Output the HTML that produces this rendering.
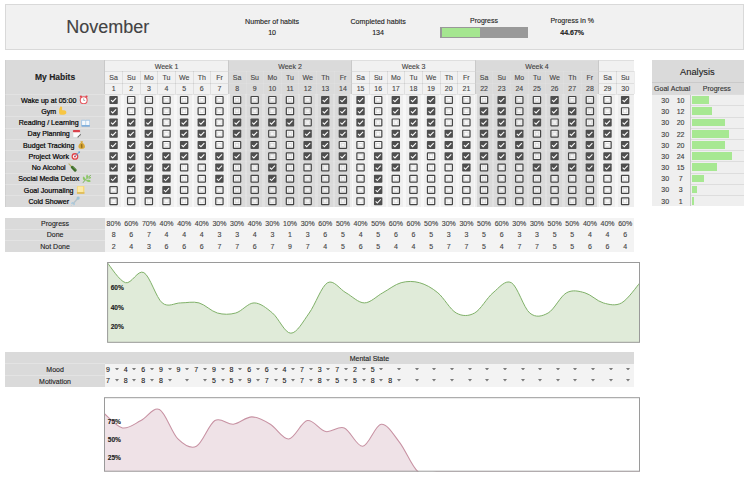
<!DOCTYPE html>
<html><head><meta charset="utf-8"><title>Habit Tracker</title>
<style>
html,body{margin:0;padding:0;background:#fff;overflow:hidden}
body{width:748px;height:477px;position:relative;overflow:hidden;font-family:"Liberation Sans", sans-serif}
.t{position:absolute;width:200px;height:20px;line-height:20px;text-align:center;white-space:nowrap;font-family:"Liberation Sans", sans-serif;-webkit-text-stroke:.12px currentColor}
.hl{position:absolute;left:5.3px;width:99.50px;height:20px;line-height:20px;text-align:center;white-space:nowrap;font-size:7.1px;color:#000;font-family:"Liberation Sans", sans-serif;padding-right:1px;box-sizing:border-box;-webkit-text-stroke:.2px #000}
.hl .ic{display:inline-block;vertical-align:-1.9px;margin-left:.3px}
.cb{position:absolute}
svg{display:block}
#w{position:absolute;left:0;top:0;width:748px;height:477px;opacity:.999;overflow:hidden}
</style></head><body><div id="w">
<div style="position:absolute;left:5.00px;top:4.00px;width:737.00px;height:43.70px;background:rgba(241,241,241,.985);border:1px solid #d9d9d9;box-sizing:content-box;"></div>
<div class="t" style="left:7.80px;top:16.80px;font-size:18px;color:#434343;font-weight:normal;">November</div>
<div class="t" style="left:172.10px;top:11.50px;font-size:7.1px;color:#222;font-weight:normal;">Number of habits</div>
<div class="t" style="left:172.10px;top:23.30px;font-size:7.1px;color:#222;font-weight:normal;">10</div>
<div class="t" style="left:278.10px;top:11.50px;font-size:7.1px;color:#222;font-weight:normal;">Completed habits</div>
<div class="t" style="left:278.10px;top:23.30px;font-size:7.1px;color:#222;font-weight:normal;">134</div>
<div class="t" style="left:384.00px;top:11.30px;font-size:7px;color:#222;font-weight:normal;">Progress</div>
<div style="position:absolute;left:440.20px;top:27.20px;width:87.80px;height:11.00px;background:#999;"></div>
<div style="position:absolute;left:441.60px;top:28.40px;width:38.40px;height:8.60px;background:rgba(166,232,144,.985);"></div>
<div class="t" style="left:472.20px;top:11.30px;font-size:7px;color:#222;font-weight:normal;">Progress in %</div>
<div class="t" style="left:472.20px;top:23.00px;font-size:7px;color:#222;font-weight:bold;">44.67%</div>
<div style="position:absolute;left:5.30px;top:60.40px;width:99.50px;height:146.30px;background:rgba(217,217,217,.985);"></div>
<div class="t" style="left:-44.95px;top:67.00px;font-size:8.5px;color:#222;font-weight:bold;">My Habits</div>
<div style="position:absolute;left:5.30px;top:60.40px;width:1.10px;height:146.30px;background:rgba(0,0,0,.045);"></div>
<div style="position:absolute;left:104.80px;top:60.40px;width:123.48px;height:146.30px;background:rgba(241,241,241,.985);"></div>
<div style="position:absolute;left:104.80px;top:94.10px;width:123.48px;height:112.60px;background:rgba(239,239,239,.985);"></div>
<div style="position:absolute;left:228.28px;top:60.40px;width:123.48px;height:146.30px;background:rgba(217,217,217,.985);"></div>
<div style="position:absolute;left:351.76px;top:60.40px;width:123.48px;height:146.30px;background:rgba(241,241,241,.985);"></div>
<div style="position:absolute;left:351.76px;top:94.10px;width:123.48px;height:112.60px;background:rgba(239,239,239,.985);"></div>
<div style="position:absolute;left:475.24px;top:60.40px;width:123.48px;height:146.30px;background:rgba(217,217,217,.985);"></div>
<div style="position:absolute;left:598.72px;top:60.40px;width:35.28px;height:146.30px;background:rgba(241,241,241,.985);"></div>
<div style="position:absolute;left:598.72px;top:94.10px;width:35.28px;height:112.60px;background:rgba(239,239,239,.985);"></div>
<div style="position:absolute;left:104.40px;top:60.40px;width:0.80px;height:33.70px;background:rgba(0,0,0,.075);"></div>
<div style="position:absolute;left:122.04px;top:71.40px;width:0.80px;height:22.70px;background:rgba(0,0,0,.075);"></div>
<div style="position:absolute;left:121.14px;top:94.10px;width:2.60px;height:112.60px;background:rgba(255,255,255,.5);"></div>
<div style="position:absolute;left:139.68px;top:71.40px;width:0.80px;height:22.70px;background:rgba(0,0,0,.075);"></div>
<div style="position:absolute;left:138.78px;top:94.10px;width:2.60px;height:112.60px;background:rgba(255,255,255,.5);"></div>
<div style="position:absolute;left:157.32px;top:71.40px;width:0.80px;height:22.70px;background:rgba(0,0,0,.075);"></div>
<div style="position:absolute;left:156.42px;top:94.10px;width:2.60px;height:112.60px;background:rgba(255,255,255,.5);"></div>
<div style="position:absolute;left:174.96px;top:71.40px;width:0.80px;height:22.70px;background:rgba(0,0,0,.075);"></div>
<div style="position:absolute;left:174.06px;top:94.10px;width:2.60px;height:112.60px;background:rgba(255,255,255,.5);"></div>
<div style="position:absolute;left:192.60px;top:71.40px;width:0.80px;height:22.70px;background:rgba(0,0,0,.075);"></div>
<div style="position:absolute;left:191.70px;top:94.10px;width:2.60px;height:112.60px;background:rgba(255,255,255,.5);"></div>
<div style="position:absolute;left:210.24px;top:71.40px;width:0.80px;height:22.70px;background:rgba(0,0,0,.075);"></div>
<div style="position:absolute;left:209.34px;top:94.10px;width:2.60px;height:112.60px;background:rgba(255,255,255,.5);"></div>
<div style="position:absolute;left:227.88px;top:60.40px;width:0.80px;height:33.70px;background:rgba(0,0,0,.075);"></div>
<div style="position:absolute;left:226.98px;top:94.10px;width:2.60px;height:112.60px;background:rgba(255,255,255,.5);"></div>
<div style="position:absolute;left:245.52px;top:71.40px;width:0.80px;height:22.70px;background:rgba(255,255,255,.09);"></div>
<div style="position:absolute;left:244.62px;top:94.10px;width:2.60px;height:112.60px;background:rgba(255,255,255,.2);"></div>
<div style="position:absolute;left:263.16px;top:71.40px;width:0.80px;height:22.70px;background:rgba(255,255,255,.09);"></div>
<div style="position:absolute;left:262.26px;top:94.10px;width:2.60px;height:112.60px;background:rgba(255,255,255,.2);"></div>
<div style="position:absolute;left:280.80px;top:71.40px;width:0.80px;height:22.70px;background:rgba(255,255,255,.09);"></div>
<div style="position:absolute;left:279.90px;top:94.10px;width:2.60px;height:112.60px;background:rgba(255,255,255,.2);"></div>
<div style="position:absolute;left:298.44px;top:71.40px;width:0.80px;height:22.70px;background:rgba(255,255,255,.09);"></div>
<div style="position:absolute;left:297.54px;top:94.10px;width:2.60px;height:112.60px;background:rgba(255,255,255,.2);"></div>
<div style="position:absolute;left:316.08px;top:71.40px;width:0.80px;height:22.70px;background:rgba(255,255,255,.09);"></div>
<div style="position:absolute;left:315.18px;top:94.10px;width:2.60px;height:112.60px;background:rgba(255,255,255,.2);"></div>
<div style="position:absolute;left:333.72px;top:71.40px;width:0.80px;height:22.70px;background:rgba(255,255,255,.09);"></div>
<div style="position:absolute;left:332.82px;top:94.10px;width:2.60px;height:112.60px;background:rgba(255,255,255,.2);"></div>
<div style="position:absolute;left:351.36px;top:60.40px;width:0.80px;height:33.70px;background:rgba(0,0,0,.075);"></div>
<div style="position:absolute;left:350.46px;top:94.10px;width:2.60px;height:112.60px;background:rgba(255,255,255,.5);"></div>
<div style="position:absolute;left:369.00px;top:71.40px;width:0.80px;height:22.70px;background:rgba(0,0,0,.075);"></div>
<div style="position:absolute;left:368.10px;top:94.10px;width:2.60px;height:112.60px;background:rgba(255,255,255,.5);"></div>
<div style="position:absolute;left:386.64px;top:71.40px;width:0.80px;height:22.70px;background:rgba(0,0,0,.075);"></div>
<div style="position:absolute;left:385.74px;top:94.10px;width:2.60px;height:112.60px;background:rgba(255,255,255,.5);"></div>
<div style="position:absolute;left:404.28px;top:71.40px;width:0.80px;height:22.70px;background:rgba(0,0,0,.075);"></div>
<div style="position:absolute;left:403.38px;top:94.10px;width:2.60px;height:112.60px;background:rgba(255,255,255,.5);"></div>
<div style="position:absolute;left:421.92px;top:71.40px;width:0.80px;height:22.70px;background:rgba(0,0,0,.075);"></div>
<div style="position:absolute;left:421.02px;top:94.10px;width:2.60px;height:112.60px;background:rgba(255,255,255,.5);"></div>
<div style="position:absolute;left:439.56px;top:71.40px;width:0.80px;height:22.70px;background:rgba(0,0,0,.075);"></div>
<div style="position:absolute;left:438.66px;top:94.10px;width:2.60px;height:112.60px;background:rgba(255,255,255,.5);"></div>
<div style="position:absolute;left:457.20px;top:71.40px;width:0.80px;height:22.70px;background:rgba(0,0,0,.075);"></div>
<div style="position:absolute;left:456.30px;top:94.10px;width:2.60px;height:112.60px;background:rgba(255,255,255,.5);"></div>
<div style="position:absolute;left:474.84px;top:60.40px;width:0.80px;height:33.70px;background:rgba(0,0,0,.075);"></div>
<div style="position:absolute;left:473.94px;top:94.10px;width:2.60px;height:112.60px;background:rgba(255,255,255,.5);"></div>
<div style="position:absolute;left:492.48px;top:71.40px;width:0.80px;height:22.70px;background:rgba(255,255,255,.09);"></div>
<div style="position:absolute;left:491.58px;top:94.10px;width:2.60px;height:112.60px;background:rgba(255,255,255,.2);"></div>
<div style="position:absolute;left:510.12px;top:71.40px;width:0.80px;height:22.70px;background:rgba(255,255,255,.09);"></div>
<div style="position:absolute;left:509.22px;top:94.10px;width:2.60px;height:112.60px;background:rgba(255,255,255,.2);"></div>
<div style="position:absolute;left:527.76px;top:71.40px;width:0.80px;height:22.70px;background:rgba(255,255,255,.09);"></div>
<div style="position:absolute;left:526.86px;top:94.10px;width:2.60px;height:112.60px;background:rgba(255,255,255,.2);"></div>
<div style="position:absolute;left:545.40px;top:71.40px;width:0.80px;height:22.70px;background:rgba(255,255,255,.09);"></div>
<div style="position:absolute;left:544.50px;top:94.10px;width:2.60px;height:112.60px;background:rgba(255,255,255,.2);"></div>
<div style="position:absolute;left:563.04px;top:71.40px;width:0.80px;height:22.70px;background:rgba(255,255,255,.09);"></div>
<div style="position:absolute;left:562.14px;top:94.10px;width:2.60px;height:112.60px;background:rgba(255,255,255,.2);"></div>
<div style="position:absolute;left:580.68px;top:71.40px;width:0.80px;height:22.70px;background:rgba(255,255,255,.09);"></div>
<div style="position:absolute;left:579.78px;top:94.10px;width:2.60px;height:112.60px;background:rgba(255,255,255,.2);"></div>
<div style="position:absolute;left:598.32px;top:60.40px;width:0.80px;height:33.70px;background:rgba(0,0,0,.075);"></div>
<div style="position:absolute;left:597.42px;top:94.10px;width:2.60px;height:112.60px;background:rgba(255,255,255,.5);"></div>
<div style="position:absolute;left:615.96px;top:71.40px;width:0.80px;height:22.70px;background:rgba(0,0,0,.075);"></div>
<div style="position:absolute;left:615.06px;top:94.10px;width:2.60px;height:112.60px;background:rgba(255,255,255,.5);"></div>
<div style="position:absolute;left:633.60px;top:71.40px;width:0.80px;height:22.70px;background:rgba(0,0,0,.075);"></div>
<div style="position:absolute;left:104.80px;top:60.00px;width:123.48px;height:0.80px;background:rgba(0,0,0,.075);"></div>
<div style="position:absolute;left:104.80px;top:71.00px;width:123.48px;height:0.80px;background:rgba(0,0,0,.075);"></div>
<div style="position:absolute;left:104.80px;top:82.70px;width:123.48px;height:0.80px;background:rgba(0,0,0,.075);"></div>
<div style="position:absolute;left:104.80px;top:93.70px;width:123.48px;height:0.80px;background:rgba(0,0,0,.075);"></div>
<div style="position:absolute;left:104.80px;top:105.01px;width:123.48px;height:0.70px;background:rgba(255,255,255,.09);"></div>
<div style="position:absolute;left:104.80px;top:116.27px;width:123.48px;height:0.70px;background:rgba(255,255,255,.09);"></div>
<div style="position:absolute;left:104.80px;top:127.53px;width:123.48px;height:0.70px;background:rgba(255,255,255,.09);"></div>
<div style="position:absolute;left:104.80px;top:138.79px;width:123.48px;height:0.70px;background:rgba(255,255,255,.09);"></div>
<div style="position:absolute;left:104.80px;top:150.05px;width:123.48px;height:0.70px;background:rgba(255,255,255,.09);"></div>
<div style="position:absolute;left:104.80px;top:161.31px;width:123.48px;height:0.70px;background:rgba(255,255,255,.09);"></div>
<div style="position:absolute;left:104.80px;top:172.57px;width:123.48px;height:0.70px;background:rgba(255,255,255,.09);"></div>
<div style="position:absolute;left:104.80px;top:183.83px;width:123.48px;height:0.70px;background:rgba(255,255,255,.09);"></div>
<div style="position:absolute;left:104.80px;top:195.09px;width:123.48px;height:0.70px;background:rgba(255,255,255,.09);"></div>
<div style="position:absolute;left:228.28px;top:60.00px;width:123.48px;height:0.80px;background:rgba(255,255,255,.09);"></div>
<div style="position:absolute;left:228.28px;top:71.00px;width:123.48px;height:0.80px;background:rgba(255,255,255,.09);"></div>
<div style="position:absolute;left:228.28px;top:82.70px;width:123.48px;height:0.80px;background:rgba(255,255,255,.09);"></div>
<div style="position:absolute;left:228.28px;top:93.70px;width:123.48px;height:0.80px;background:rgba(255,255,255,.09);"></div>
<div style="position:absolute;left:228.28px;top:105.01px;width:123.48px;height:0.70px;background:rgba(255,255,255,.07);"></div>
<div style="position:absolute;left:228.28px;top:116.27px;width:123.48px;height:0.70px;background:rgba(255,255,255,.07);"></div>
<div style="position:absolute;left:228.28px;top:127.53px;width:123.48px;height:0.70px;background:rgba(255,255,255,.07);"></div>
<div style="position:absolute;left:228.28px;top:138.79px;width:123.48px;height:0.70px;background:rgba(255,255,255,.07);"></div>
<div style="position:absolute;left:228.28px;top:150.05px;width:123.48px;height:0.70px;background:rgba(255,255,255,.07);"></div>
<div style="position:absolute;left:228.28px;top:161.31px;width:123.48px;height:0.70px;background:rgba(255,255,255,.07);"></div>
<div style="position:absolute;left:228.28px;top:172.57px;width:123.48px;height:0.70px;background:rgba(255,255,255,.07);"></div>
<div style="position:absolute;left:228.28px;top:183.83px;width:123.48px;height:0.70px;background:rgba(255,255,255,.07);"></div>
<div style="position:absolute;left:228.28px;top:195.09px;width:123.48px;height:0.70px;background:rgba(255,255,255,.07);"></div>
<div style="position:absolute;left:351.76px;top:60.00px;width:123.48px;height:0.80px;background:rgba(0,0,0,.075);"></div>
<div style="position:absolute;left:351.76px;top:71.00px;width:123.48px;height:0.80px;background:rgba(0,0,0,.075);"></div>
<div style="position:absolute;left:351.76px;top:82.70px;width:123.48px;height:0.80px;background:rgba(0,0,0,.075);"></div>
<div style="position:absolute;left:351.76px;top:93.70px;width:123.48px;height:0.80px;background:rgba(0,0,0,.075);"></div>
<div style="position:absolute;left:351.76px;top:105.01px;width:123.48px;height:0.70px;background:rgba(255,255,255,.09);"></div>
<div style="position:absolute;left:351.76px;top:116.27px;width:123.48px;height:0.70px;background:rgba(255,255,255,.09);"></div>
<div style="position:absolute;left:351.76px;top:127.53px;width:123.48px;height:0.70px;background:rgba(255,255,255,.09);"></div>
<div style="position:absolute;left:351.76px;top:138.79px;width:123.48px;height:0.70px;background:rgba(255,255,255,.09);"></div>
<div style="position:absolute;left:351.76px;top:150.05px;width:123.48px;height:0.70px;background:rgba(255,255,255,.09);"></div>
<div style="position:absolute;left:351.76px;top:161.31px;width:123.48px;height:0.70px;background:rgba(255,255,255,.09);"></div>
<div style="position:absolute;left:351.76px;top:172.57px;width:123.48px;height:0.70px;background:rgba(255,255,255,.09);"></div>
<div style="position:absolute;left:351.76px;top:183.83px;width:123.48px;height:0.70px;background:rgba(255,255,255,.09);"></div>
<div style="position:absolute;left:351.76px;top:195.09px;width:123.48px;height:0.70px;background:rgba(255,255,255,.09);"></div>
<div style="position:absolute;left:475.24px;top:60.00px;width:123.48px;height:0.80px;background:rgba(255,255,255,.09);"></div>
<div style="position:absolute;left:475.24px;top:71.00px;width:123.48px;height:0.80px;background:rgba(255,255,255,.09);"></div>
<div style="position:absolute;left:475.24px;top:82.70px;width:123.48px;height:0.80px;background:rgba(255,255,255,.09);"></div>
<div style="position:absolute;left:475.24px;top:93.70px;width:123.48px;height:0.80px;background:rgba(255,255,255,.09);"></div>
<div style="position:absolute;left:475.24px;top:105.01px;width:123.48px;height:0.70px;background:rgba(255,255,255,.07);"></div>
<div style="position:absolute;left:475.24px;top:116.27px;width:123.48px;height:0.70px;background:rgba(255,255,255,.07);"></div>
<div style="position:absolute;left:475.24px;top:127.53px;width:123.48px;height:0.70px;background:rgba(255,255,255,.07);"></div>
<div style="position:absolute;left:475.24px;top:138.79px;width:123.48px;height:0.70px;background:rgba(255,255,255,.07);"></div>
<div style="position:absolute;left:475.24px;top:150.05px;width:123.48px;height:0.70px;background:rgba(255,255,255,.07);"></div>
<div style="position:absolute;left:475.24px;top:161.31px;width:123.48px;height:0.70px;background:rgba(255,255,255,.07);"></div>
<div style="position:absolute;left:475.24px;top:172.57px;width:123.48px;height:0.70px;background:rgba(255,255,255,.07);"></div>
<div style="position:absolute;left:475.24px;top:183.83px;width:123.48px;height:0.70px;background:rgba(255,255,255,.07);"></div>
<div style="position:absolute;left:475.24px;top:195.09px;width:123.48px;height:0.70px;background:rgba(255,255,255,.07);"></div>
<div style="position:absolute;left:598.72px;top:60.00px;width:35.28px;height:0.80px;background:rgba(0,0,0,.075);"></div>
<div style="position:absolute;left:598.72px;top:71.00px;width:35.28px;height:0.80px;background:rgba(0,0,0,.075);"></div>
<div style="position:absolute;left:598.72px;top:82.70px;width:35.28px;height:0.80px;background:rgba(0,0,0,.075);"></div>
<div style="position:absolute;left:598.72px;top:93.70px;width:35.28px;height:0.80px;background:rgba(0,0,0,.075);"></div>
<div style="position:absolute;left:598.72px;top:105.01px;width:35.28px;height:0.70px;background:rgba(255,255,255,.09);"></div>
<div style="position:absolute;left:598.72px;top:116.27px;width:35.28px;height:0.70px;background:rgba(255,255,255,.09);"></div>
<div style="position:absolute;left:598.72px;top:127.53px;width:35.28px;height:0.70px;background:rgba(255,255,255,.09);"></div>
<div style="position:absolute;left:598.72px;top:138.79px;width:35.28px;height:0.70px;background:rgba(255,255,255,.09);"></div>
<div style="position:absolute;left:598.72px;top:150.05px;width:35.28px;height:0.70px;background:rgba(255,255,255,.09);"></div>
<div style="position:absolute;left:598.72px;top:161.31px;width:35.28px;height:0.70px;background:rgba(255,255,255,.09);"></div>
<div style="position:absolute;left:598.72px;top:172.57px;width:35.28px;height:0.70px;background:rgba(255,255,255,.09);"></div>
<div style="position:absolute;left:598.72px;top:183.83px;width:35.28px;height:0.70px;background:rgba(255,255,255,.09);"></div>
<div style="position:absolute;left:598.72px;top:195.09px;width:35.28px;height:0.70px;background:rgba(255,255,255,.09);"></div>
<div style="position:absolute;left:5.30px;top:93.75px;width:99.50px;height:0.70px;background:rgba(255,255,255,.22);"></div>
<div style="position:absolute;left:5.30px;top:105.01px;width:99.50px;height:0.70px;background:rgba(255,255,255,.22);"></div>
<div style="position:absolute;left:5.30px;top:116.27px;width:99.50px;height:0.70px;background:rgba(255,255,255,.22);"></div>
<div style="position:absolute;left:5.30px;top:127.53px;width:99.50px;height:0.70px;background:rgba(255,255,255,.22);"></div>
<div style="position:absolute;left:5.30px;top:138.79px;width:99.50px;height:0.70px;background:rgba(255,255,255,.22);"></div>
<div style="position:absolute;left:5.30px;top:150.05px;width:99.50px;height:0.70px;background:rgba(255,255,255,.22);"></div>
<div style="position:absolute;left:5.30px;top:161.31px;width:99.50px;height:0.70px;background:rgba(255,255,255,.22);"></div>
<div style="position:absolute;left:5.30px;top:172.57px;width:99.50px;height:0.70px;background:rgba(255,255,255,.22);"></div>
<div style="position:absolute;left:5.30px;top:183.83px;width:99.50px;height:0.70px;background:rgba(255,255,255,.22);"></div>
<div style="position:absolute;left:5.30px;top:195.09px;width:99.50px;height:0.70px;background:rgba(255,255,255,.22);"></div>
<div class="t" style="left:66.54px;top:56.80px;font-size:7px;color:#444;font-weight:normal;">Week 1</div>
<div class="t" style="left:190.02px;top:56.80px;font-size:7px;color:#444;font-weight:normal;">Week 2</div>
<div class="t" style="left:313.50px;top:56.80px;font-size:7px;color:#444;font-weight:normal;">Week 3</div>
<div class="t" style="left:436.98px;top:56.80px;font-size:7px;color:#444;font-weight:normal;">Week 4</div>
<div class="t" style="left:13.62px;top:68.20px;font-size:7px;color:#484848;font-weight:normal;">Sa</div>
<div class="t" style="left:13.62px;top:79.45px;font-size:7px;color:#484848;font-weight:normal;">1</div>
<div class="t" style="left:31.26px;top:68.20px;font-size:7px;color:#484848;font-weight:normal;">Su</div>
<div class="t" style="left:31.26px;top:79.45px;font-size:7px;color:#484848;font-weight:normal;">2</div>
<div class="t" style="left:48.90px;top:68.20px;font-size:7px;color:#484848;font-weight:normal;">Mo</div>
<div class="t" style="left:48.90px;top:79.45px;font-size:7px;color:#484848;font-weight:normal;">3</div>
<div class="t" style="left:66.54px;top:68.20px;font-size:7px;color:#484848;font-weight:normal;">Tu</div>
<div class="t" style="left:66.54px;top:79.45px;font-size:7px;color:#484848;font-weight:normal;">4</div>
<div class="t" style="left:84.18px;top:68.20px;font-size:7px;color:#484848;font-weight:normal;">We</div>
<div class="t" style="left:84.18px;top:79.45px;font-size:7px;color:#484848;font-weight:normal;">5</div>
<div class="t" style="left:101.82px;top:68.20px;font-size:7px;color:#484848;font-weight:normal;">Th</div>
<div class="t" style="left:101.82px;top:79.45px;font-size:7px;color:#484848;font-weight:normal;">6</div>
<div class="t" style="left:119.46px;top:68.20px;font-size:7px;color:#484848;font-weight:normal;">Fr</div>
<div class="t" style="left:119.46px;top:79.45px;font-size:7px;color:#484848;font-weight:normal;">7</div>
<div class="t" style="left:137.10px;top:68.20px;font-size:7px;color:#484848;font-weight:normal;">Sa</div>
<div class="t" style="left:137.10px;top:79.45px;font-size:7px;color:#484848;font-weight:normal;">8</div>
<div class="t" style="left:154.74px;top:68.20px;font-size:7px;color:#484848;font-weight:normal;">Su</div>
<div class="t" style="left:154.74px;top:79.45px;font-size:7px;color:#484848;font-weight:normal;">9</div>
<div class="t" style="left:172.38px;top:68.20px;font-size:7px;color:#484848;font-weight:normal;">Mo</div>
<div class="t" style="left:172.38px;top:79.45px;font-size:7px;color:#484848;font-weight:normal;">10</div>
<div class="t" style="left:190.02px;top:68.20px;font-size:7px;color:#484848;font-weight:normal;">Tu</div>
<div class="t" style="left:190.02px;top:79.45px;font-size:7px;color:#484848;font-weight:normal;">11</div>
<div class="t" style="left:207.66px;top:68.20px;font-size:7px;color:#484848;font-weight:normal;">We</div>
<div class="t" style="left:207.66px;top:79.45px;font-size:7px;color:#484848;font-weight:normal;">12</div>
<div class="t" style="left:225.30px;top:68.20px;font-size:7px;color:#484848;font-weight:normal;">Th</div>
<div class="t" style="left:225.30px;top:79.45px;font-size:7px;color:#484848;font-weight:normal;">13</div>
<div class="t" style="left:242.94px;top:68.20px;font-size:7px;color:#484848;font-weight:normal;">Fr</div>
<div class="t" style="left:242.94px;top:79.45px;font-size:7px;color:#484848;font-weight:normal;">14</div>
<div class="t" style="left:260.58px;top:68.20px;font-size:7px;color:#484848;font-weight:normal;">Sa</div>
<div class="t" style="left:260.58px;top:79.45px;font-size:7px;color:#484848;font-weight:normal;">15</div>
<div class="t" style="left:278.22px;top:68.20px;font-size:7px;color:#484848;font-weight:normal;">Su</div>
<div class="t" style="left:278.22px;top:79.45px;font-size:7px;color:#484848;font-weight:normal;">16</div>
<div class="t" style="left:295.86px;top:68.20px;font-size:7px;color:#484848;font-weight:normal;">Mo</div>
<div class="t" style="left:295.86px;top:79.45px;font-size:7px;color:#484848;font-weight:normal;">17</div>
<div class="t" style="left:313.50px;top:68.20px;font-size:7px;color:#484848;font-weight:normal;">Tu</div>
<div class="t" style="left:313.50px;top:79.45px;font-size:7px;color:#484848;font-weight:normal;">18</div>
<div class="t" style="left:331.14px;top:68.20px;font-size:7px;color:#484848;font-weight:normal;">We</div>
<div class="t" style="left:331.14px;top:79.45px;font-size:7px;color:#484848;font-weight:normal;">19</div>
<div class="t" style="left:348.78px;top:68.20px;font-size:7px;color:#484848;font-weight:normal;">Th</div>
<div class="t" style="left:348.78px;top:79.45px;font-size:7px;color:#484848;font-weight:normal;">20</div>
<div class="t" style="left:366.42px;top:68.20px;font-size:7px;color:#484848;font-weight:normal;">Fr</div>
<div class="t" style="left:366.42px;top:79.45px;font-size:7px;color:#484848;font-weight:normal;">21</div>
<div class="t" style="left:384.06px;top:68.20px;font-size:7px;color:#484848;font-weight:normal;">Sa</div>
<div class="t" style="left:384.06px;top:79.45px;font-size:7px;color:#484848;font-weight:normal;">22</div>
<div class="t" style="left:401.70px;top:68.20px;font-size:7px;color:#484848;font-weight:normal;">Su</div>
<div class="t" style="left:401.70px;top:79.45px;font-size:7px;color:#484848;font-weight:normal;">23</div>
<div class="t" style="left:419.34px;top:68.20px;font-size:7px;color:#484848;font-weight:normal;">Mo</div>
<div class="t" style="left:419.34px;top:79.45px;font-size:7px;color:#484848;font-weight:normal;">24</div>
<div class="t" style="left:436.98px;top:68.20px;font-size:7px;color:#484848;font-weight:normal;">Tu</div>
<div class="t" style="left:436.98px;top:79.45px;font-size:7px;color:#484848;font-weight:normal;">25</div>
<div class="t" style="left:454.62px;top:68.20px;font-size:7px;color:#484848;font-weight:normal;">We</div>
<div class="t" style="left:454.62px;top:79.45px;font-size:7px;color:#484848;font-weight:normal;">26</div>
<div class="t" style="left:472.26px;top:68.20px;font-size:7px;color:#484848;font-weight:normal;">Th</div>
<div class="t" style="left:472.26px;top:79.45px;font-size:7px;color:#484848;font-weight:normal;">27</div>
<div class="t" style="left:489.90px;top:68.20px;font-size:7px;color:#484848;font-weight:normal;">Fr</div>
<div class="t" style="left:489.90px;top:79.45px;font-size:7px;color:#484848;font-weight:normal;">28</div>
<div class="t" style="left:507.54px;top:68.20px;font-size:7px;color:#484848;font-weight:normal;">Sa</div>
<div class="t" style="left:507.54px;top:79.45px;font-size:7px;color:#484848;font-weight:normal;">29</div>
<div class="t" style="left:525.18px;top:68.20px;font-size:7px;color:#484848;font-weight:normal;">Su</div>
<div class="t" style="left:525.18px;top:79.45px;font-size:7px;color:#484848;font-weight:normal;">30</div>
<div class="hl" style="top:90.58px">Wake up at 05:00 <svg class="ic" width="9.4" height="9.4" viewBox="0 0 10 10"><circle cx="5" cy="5.6" r="3.7" fill="#fff" stroke="#e5555c" stroke-width="1.15"/><circle cx="2" cy="1.6" r="1.2" fill="#e0454f"/><circle cx="8" cy="1.6" r="1.2" fill="#e0454f"/><path d="M5 3.6V5.8H6.6" stroke="#888" stroke-width=".7" fill="none"/></svg></div>
<div class="hl" style="top:101.84px">Gym <svg class="ic" width="9.4" height="9.4" viewBox="0 0 10 10"><path d="M2.4 0.8C4 0.2 4.8 1.2 4.4 2.6C4 3.8 4.4 4.8 5.6 4.6C7.8 4.2 9.4 5.8 8.8 7.6C8 9.6 3.6 9.8 1.6 8.8C0.6 7 1 2.6 2.4 0.8Z" fill="#f7c644"/></svg></div>
<div class="hl" style="top:113.10px">Reading / Learning <svg class="ic" width="9.4" height="9.4" viewBox="0 0 10 10"><path d="M0.6 2.4H4.6L5 3L5.4 2.4H9.4V8.2H0.6Z" fill="#f4f8fc" stroke="#9cc3e6" stroke-width=".9"/><path d="M5 3V8" stroke="#9cc3e6" stroke-width=".7"/><path d="M0.6 8.5H9.4" stroke="#4f8fd0" stroke-width="1"/></svg></div>
<div class="hl" style="top:124.36px">Day Planning <svg class="ic" width="9.4" height="9.4" viewBox="0 0 10 10"><rect x="1" y="1" width="7.6" height="8" rx=".8" fill="#fdfdfd" stroke="#ccc" stroke-width=".5"/><rect x="1" y="1" width="7.6" height="2.4" rx=".8" fill="#d9434c"/><path d="M6 9L9.4 5.6" stroke="#666" stroke-width="1.1"/></svg></div>
<div class="hl" style="top:135.62px">Budget Tracking <svg class="ic" width="9.4" height="9.4" viewBox="0 0 10 10"><path d="M3.6 1.2H6.4L5.8 2.8C8 4 8.8 6 8.4 7.8C8.1 9.2 6.6 9.6 5 9.6C3.4 9.6 1.9 9.2 1.6 7.8C1.2 6 2 4 4.2 2.8Z" fill="#d9a93a"/><path d="M5 4.4V8.4M4 5.4H5.8M4.2 7.4H6" stroke="#7c5a12" stroke-width=".7" fill="none"/></svg></div>
<div class="hl" style="top:146.88px">Project Work <svg class="ic" width="9.4" height="9.4" viewBox="0 0 10 10"><circle cx="4.2" cy="5.8" r="3.6" fill="#e0434a"/><circle cx="4.2" cy="5.8" r="2.2" fill="#fff"/><circle cx="4.2" cy="5.8" r="1.1" fill="#e0434a"/><path d="M4.4 5.6L9 1" stroke="#4f9bd6" stroke-width="1"/><path d="M7.6 0.6L9.6 0.4L9.4 2.4Z" fill="#4f9bd6"/></svg></div>
<div class="hl" style="top:158.14px">No Alcohol <svg class="ic" width="9.4" height="9.4" viewBox="0 0 10 10"><path d="M1 1L4.2 4.2" stroke="#b9b36a" stroke-width="1.3" stroke-linecap="round"/><path d="M4.6 4.6L7.6 7.6" stroke="#3f6e2c" stroke-width="3.1" stroke-linecap="round"/><path d="M5.3 4.2L7.9 6.8" stroke="#6c9a4d" stroke-width=".8" stroke-linecap="round"/></svg></div>
<div class="hl" style="top:169.40px">Social Media Detox <svg class="ic" width="9.4" height="9.4" viewBox="0 0 10 10"><path d="M1 9.4C3 6.6 6 3.6 9.4 1.4" stroke="#6aa84a" stroke-width=".9" fill="none"/><path d="M3.4 7.4C1 6.8 0.4 4.4 1.2 2.6C3.2 3.2 4.4 5.2 3.4 7.4ZM5.4 5.2C3.8 3.8 4.2 1.4 5.4 0.4C7 1.6 6.8 4 5.4 5.2ZM4 7C5.8 5.6 8.4 6.2 9.4 7.6C8 9 5.2 8.8 4 7ZM6.6 4.4C7.6 3 9.4 2.8 10 3.4C9.6 5 7.8 5.6 6.6 4.4Z" fill="#8cc866"/></svg></div>
<div class="hl" style="top:180.66px">Goal Journaling <svg class="ic" width="9.4" height="9.4" viewBox="0 0 10 10"><rect x="1" y="1" width="8" height="8.2" rx=".8" fill="#f6d97a"/><rect x="2" y="1.8" width="5.4" height="5.6" fill="#fbe9a8"/><path d="M1 7.8H9V9.2H1Z" fill="#d8b34f"/></svg></div>
<div class="hl" style="top:191.92px">Cold Shower <svg class="ic" width="9.4" height="9.4" viewBox="0 0 10 10"><path d="M2.2 8.2L7.6 2.2" stroke="#b4c4cc" stroke-width="1.6" stroke-linecap="round"/><circle cx="7.6" cy="2.2" r="1.7" fill="#9ec4d6"/><path d="M1.6 6.4L0.6 8.6M3.6 7.8L3.2 9.8M0.8 9.6L.5 10" stroke="#84c3ea" stroke-width=".8"/></svg></div>
<svg style="position:absolute;left:0;top:0" width="748" height="477" viewBox="0 0 748 477"><defs><g id="c"><rect width="8.4" height="8" rx=".8" fill="#4e4e4e"/><path d="M1.7 4.1L3.35 5.75L6.75 2.1" stroke="#fff" stroke-width="1.05" fill="none"/></g><g id="u"><rect x=".55" y=".55" width="7.3" height="6.9" rx=".5" fill="rgba(255,255,255,.68)" stroke="#444" stroke-width="1.2"/><rect x="2.5" y="2.4" width="3.4" height="3.2" fill="none" stroke="rgba(160,160,160,.4)" stroke-width=".6"/></g><path id="a" d="M0 0H3.6L1.8 2.4Z" fill="#777"/></defs><use href="#c" x="109.37" y="95.93"/><use href="#u" x="127.01" y="95.93"/><use href="#u" x="144.65" y="95.93"/><use href="#u" x="162.29" y="95.93"/><use href="#u" x="179.93" y="95.93"/><use href="#u" x="197.57" y="95.93"/><use href="#u" x="215.21" y="95.93"/><use href="#u" x="232.85" y="95.93"/><use href="#u" x="250.49" y="95.93"/><use href="#u" x="268.13" y="95.93"/><use href="#u" x="285.77" y="95.93"/><use href="#u" x="303.41" y="95.93"/><use href="#c" x="321.05" y="95.93"/><use href="#c" x="338.69" y="95.93"/><use href="#c" x="356.33" y="95.93"/><use href="#u" x="373.97" y="95.93"/><use href="#c" x="391.61" y="95.93"/><use href="#c" x="409.25" y="95.93"/><use href="#c" x="426.89" y="95.93"/><use href="#u" x="444.53" y="95.93"/><use href="#u" x="462.17" y="95.93"/><use href="#u" x="479.81" y="95.93"/><use href="#c" x="497.45" y="95.93"/><use href="#u" x="515.09" y="95.93"/><use href="#u" x="532.73" y="95.93"/><use href="#c" x="550.37" y="95.93"/><use href="#u" x="568.01" y="95.93"/><use href="#u" x="585.65" y="95.93"/><use href="#u" x="603.29" y="95.93"/><use href="#c" x="620.93" y="95.93"/><use href="#c" x="109.37" y="107.19"/><use href="#u" x="127.01" y="107.19"/><use href="#u" x="144.65" y="107.19"/><use href="#u" x="162.29" y="107.19"/><use href="#u" x="179.93" y="107.19"/><use href="#u" x="197.57" y="107.19"/><use href="#u" x="215.21" y="107.19"/><use href="#u" x="232.85" y="107.19"/><use href="#u" x="250.49" y="107.19"/><use href="#u" x="268.13" y="107.19"/><use href="#u" x="285.77" y="107.19"/><use href="#u" x="303.41" y="107.19"/><use href="#c" x="321.05" y="107.19"/><use href="#c" x="338.69" y="107.19"/><use href="#c" x="356.33" y="107.19"/><use href="#u" x="373.97" y="107.19"/><use href="#c" x="391.61" y="107.19"/><use href="#c" x="409.25" y="107.19"/><use href="#c" x="426.89" y="107.19"/><use href="#u" x="444.53" y="107.19"/><use href="#u" x="462.17" y="107.19"/><use href="#c" x="479.81" y="107.19"/><use href="#c" x="497.45" y="107.19"/><use href="#u" x="515.09" y="107.19"/><use href="#c" x="532.73" y="107.19"/><use href="#c" x="550.37" y="107.19"/><use href="#c" x="568.01" y="107.19"/><use href="#u" x="585.65" y="107.19"/><use href="#u" x="603.29" y="107.19"/><use href="#u" x="620.93" y="107.19"/><use href="#c" x="109.37" y="118.45"/><use href="#c" x="127.01" y="118.45"/><use href="#c" x="144.65" y="118.45"/><use href="#u" x="162.29" y="118.45"/><use href="#c" x="179.93" y="118.45"/><use href="#c" x="197.57" y="118.45"/><use href="#u" x="215.21" y="118.45"/><use href="#c" x="232.85" y="118.45"/><use href="#c" x="250.49" y="118.45"/><use href="#c" x="268.13" y="118.45"/><use href="#c" x="285.77" y="118.45"/><use href="#u" x="303.41" y="118.45"/><use href="#c" x="321.05" y="118.45"/><use href="#c" x="338.69" y="118.45"/><use href="#c" x="356.33" y="118.45"/><use href="#u" x="373.97" y="118.45"/><use href="#u" x="391.61" y="118.45"/><use href="#c" x="409.25" y="118.45"/><use href="#c" x="426.89" y="118.45"/><use href="#u" x="444.53" y="118.45"/><use href="#u" x="462.17" y="118.45"/><use href="#c" x="479.81" y="118.45"/><use href="#c" x="497.45" y="118.45"/><use href="#u" x="515.09" y="118.45"/><use href="#c" x="532.73" y="118.45"/><use href="#u" x="550.37" y="118.45"/><use href="#c" x="568.01" y="118.45"/><use href="#u" x="585.65" y="118.45"/><use href="#c" x="603.29" y="118.45"/><use href="#c" x="620.93" y="118.45"/><use href="#c" x="109.37" y="129.71"/><use href="#c" x="127.01" y="129.71"/><use href="#c" x="144.65" y="129.71"/><use href="#u" x="162.29" y="129.71"/><use href="#c" x="179.93" y="129.71"/><use href="#c" x="197.57" y="129.71"/><use href="#u" x="215.21" y="129.71"/><use href="#c" x="232.85" y="129.71"/><use href="#c" x="250.49" y="129.71"/><use href="#u" x="268.13" y="129.71"/><use href="#u" x="285.77" y="129.71"/><use href="#c" x="303.41" y="129.71"/><use href="#c" x="321.05" y="129.71"/><use href="#c" x="338.69" y="129.71"/><use href="#c" x="356.33" y="129.71"/><use href="#u" x="373.97" y="129.71"/><use href="#c" x="391.61" y="129.71"/><use href="#c" x="409.25" y="129.71"/><use href="#c" x="426.89" y="129.71"/><use href="#c" x="444.53" y="129.71"/><use href="#u" x="462.17" y="129.71"/><use href="#c" x="479.81" y="129.71"/><use href="#c" x="497.45" y="129.71"/><use href="#c" x="515.09" y="129.71"/><use href="#u" x="532.73" y="129.71"/><use href="#u" x="550.37" y="129.71"/><use href="#c" x="568.01" y="129.71"/><use href="#c" x="585.65" y="129.71"/><use href="#c" x="603.29" y="129.71"/><use href="#c" x="620.93" y="129.71"/><use href="#c" x="109.37" y="140.97"/><use href="#c" x="127.01" y="140.97"/><use href="#c" x="144.65" y="140.97"/><use href="#u" x="162.29" y="140.97"/><use href="#c" x="179.93" y="140.97"/><use href="#c" x="197.57" y="140.97"/><use href="#u" x="215.21" y="140.97"/><use href="#u" x="232.85" y="140.97"/><use href="#c" x="250.49" y="140.97"/><use href="#u" x="268.13" y="140.97"/><use href="#u" x="285.77" y="140.97"/><use href="#c" x="303.41" y="140.97"/><use href="#c" x="321.05" y="140.97"/><use href="#u" x="338.69" y="140.97"/><use href="#u" x="356.33" y="140.97"/><use href="#u" x="373.97" y="140.97"/><use href="#c" x="391.61" y="140.97"/><use href="#c" x="409.25" y="140.97"/><use href="#c" x="426.89" y="140.97"/><use href="#c" x="444.53" y="140.97"/><use href="#c" x="462.17" y="140.97"/><use href="#c" x="479.81" y="140.97"/><use href="#c" x="497.45" y="140.97"/><use href="#c" x="515.09" y="140.97"/><use href="#u" x="532.73" y="140.97"/><use href="#c" x="550.37" y="140.97"/><use href="#c" x="568.01" y="140.97"/><use href="#c" x="585.65" y="140.97"/><use href="#u" x="603.29" y="140.97"/><use href="#c" x="620.93" y="140.97"/><use href="#c" x="109.37" y="152.23"/><use href="#c" x="127.01" y="152.23"/><use href="#c" x="144.65" y="152.23"/><use href="#c" x="162.29" y="152.23"/><use href="#c" x="179.93" y="152.23"/><use href="#c" x="197.57" y="152.23"/><use href="#c" x="215.21" y="152.23"/><use href="#c" x="232.85" y="152.23"/><use href="#c" x="250.49" y="152.23"/><use href="#u" x="268.13" y="152.23"/><use href="#u" x="285.77" y="152.23"/><use href="#c" x="303.41" y="152.23"/><use href="#c" x="321.05" y="152.23"/><use href="#c" x="338.69" y="152.23"/><use href="#u" x="356.33" y="152.23"/><use href="#c" x="373.97" y="152.23"/><use href="#c" x="391.61" y="152.23"/><use href="#c" x="409.25" y="152.23"/><use href="#u" x="426.89" y="152.23"/><use href="#c" x="444.53" y="152.23"/><use href="#c" x="462.17" y="152.23"/><use href="#c" x="479.81" y="152.23"/><use href="#c" x="497.45" y="152.23"/><use href="#c" x="515.09" y="152.23"/><use href="#u" x="532.73" y="152.23"/><use href="#c" x="550.37" y="152.23"/><use href="#u" x="568.01" y="152.23"/><use href="#c" x="585.65" y="152.23"/><use href="#c" x="603.29" y="152.23"/><use href="#c" x="620.93" y="152.23"/><use href="#c" x="109.37" y="163.49"/><use href="#c" x="127.01" y="163.49"/><use href="#c" x="144.65" y="163.49"/><use href="#c" x="162.29" y="163.49"/><use href="#u" x="179.93" y="163.49"/><use href="#u" x="197.57" y="163.49"/><use href="#c" x="215.21" y="163.49"/><use href="#u" x="232.85" y="163.49"/><use href="#u" x="250.49" y="163.49"/><use href="#c" x="268.13" y="163.49"/><use href="#u" x="285.77" y="163.49"/><use href="#u" x="303.41" y="163.49"/><use href="#u" x="321.05" y="163.49"/><use href="#u" x="338.69" y="163.49"/><use href="#u" x="356.33" y="163.49"/><use href="#c" x="373.97" y="163.49"/><use href="#c" x="391.61" y="163.49"/><use href="#u" x="409.25" y="163.49"/><use href="#u" x="426.89" y="163.49"/><use href="#u" x="444.53" y="163.49"/><use href="#c" x="462.17" y="163.49"/><use href="#u" x="479.81" y="163.49"/><use href="#u" x="497.45" y="163.49"/><use href="#u" x="515.09" y="163.49"/><use href="#c" x="532.73" y="163.49"/><use href="#c" x="550.37" y="163.49"/><use href="#c" x="568.01" y="163.49"/><use href="#c" x="585.65" y="163.49"/><use href="#c" x="603.29" y="163.49"/><use href="#c" x="620.93" y="163.49"/><use href="#c" x="109.37" y="174.75"/><use href="#c" x="127.01" y="174.75"/><use href="#c" x="144.65" y="174.75"/><use href="#c" x="162.29" y="174.75"/><use href="#u" x="179.93" y="174.75"/><use href="#u" x="197.57" y="174.75"/><use href="#c" x="215.21" y="174.75"/><use href="#u" x="232.85" y="174.75"/><use href="#u" x="250.49" y="174.75"/><use href="#c" x="268.13" y="174.75"/><use href="#u" x="285.77" y="174.75"/><use href="#u" x="303.41" y="174.75"/><use href="#u" x="321.05" y="174.75"/><use href="#u" x="338.69" y="174.75"/><use href="#u" x="356.33" y="174.75"/><use href="#c" x="373.97" y="174.75"/><use href="#u" x="391.61" y="174.75"/><use href="#u" x="409.25" y="174.75"/><use href="#u" x="426.89" y="174.75"/><use href="#u" x="444.53" y="174.75"/><use href="#u" x="462.17" y="174.75"/><use href="#u" x="479.81" y="174.75"/><use href="#u" x="497.45" y="174.75"/><use href="#u" x="515.09" y="174.75"/><use href="#u" x="532.73" y="174.75"/><use href="#u" x="550.37" y="174.75"/><use href="#u" x="568.01" y="174.75"/><use href="#u" x="585.65" y="174.75"/><use href="#u" x="603.29" y="174.75"/><use href="#u" x="620.93" y="174.75"/><use href="#u" x="109.37" y="186.01"/><use href="#u" x="127.01" y="186.01"/><use href="#c" x="144.65" y="186.01"/><use href="#c" x="162.29" y="186.01"/><use href="#u" x="179.93" y="186.01"/><use href="#u" x="197.57" y="186.01"/><use href="#u" x="215.21" y="186.01"/><use href="#u" x="232.85" y="186.01"/><use href="#u" x="250.49" y="186.01"/><use href="#u" x="268.13" y="186.01"/><use href="#u" x="285.77" y="186.01"/><use href="#u" x="303.41" y="186.01"/><use href="#u" x="321.05" y="186.01"/><use href="#u" x="338.69" y="186.01"/><use href="#u" x="356.33" y="186.01"/><use href="#c" x="373.97" y="186.01"/><use href="#u" x="391.61" y="186.01"/><use href="#u" x="409.25" y="186.01"/><use href="#u" x="426.89" y="186.01"/><use href="#u" x="444.53" y="186.01"/><use href="#u" x="462.17" y="186.01"/><use href="#u" x="479.81" y="186.01"/><use href="#u" x="497.45" y="186.01"/><use href="#u" x="515.09" y="186.01"/><use href="#u" x="532.73" y="186.01"/><use href="#u" x="550.37" y="186.01"/><use href="#u" x="568.01" y="186.01"/><use href="#u" x="585.65" y="186.01"/><use href="#u" x="603.29" y="186.01"/><use href="#u" x="620.93" y="186.01"/><use href="#u" x="109.37" y="197.27"/><use href="#u" x="127.01" y="197.27"/><use href="#u" x="144.65" y="197.27"/><use href="#u" x="162.29" y="197.27"/><use href="#u" x="179.93" y="197.27"/><use href="#u" x="197.57" y="197.27"/><use href="#u" x="215.21" y="197.27"/><use href="#u" x="232.85" y="197.27"/><use href="#u" x="250.49" y="197.27"/><use href="#u" x="268.13" y="197.27"/><use href="#u" x="285.77" y="197.27"/><use href="#u" x="303.41" y="197.27"/><use href="#u" x="321.05" y="197.27"/><use href="#u" x="338.69" y="197.27"/><use href="#u" x="356.33" y="197.27"/><use href="#c" x="373.97" y="197.27"/><use href="#u" x="391.61" y="197.27"/><use href="#u" x="409.25" y="197.27"/><use href="#u" x="426.89" y="197.27"/><use href="#u" x="444.53" y="197.27"/><use href="#u" x="462.17" y="197.27"/><use href="#u" x="479.81" y="197.27"/><use href="#u" x="497.45" y="197.27"/><use href="#u" x="515.09" y="197.27"/><use href="#u" x="532.73" y="197.27"/><use href="#u" x="550.37" y="197.27"/><use href="#u" x="568.01" y="197.27"/><use href="#u" x="585.65" y="197.27"/><use href="#u" x="603.29" y="197.27"/><use href="#u" x="620.93" y="197.27"/></svg>
<div style="position:absolute;left:651.80px;top:60.00px;width:91.90px;height:34.60px;background:rgba(217,217,217,.985);"></div>
<div style="position:absolute;left:651.80px;top:94.60px;width:91.90px;height:111.80px;background:rgba(239,239,239,.985);"></div>
<div class="t" style="left:597.40px;top:61.80px;font-size:9.3px;color:#222;font-weight:normal;">Analysis</div>
<div style="position:absolute;left:651.80px;top:82.10px;width:91.90px;height:0.80px;background:rgba(200,200,200,.9);"></div>
<div class="t" style="left:561.50px;top:78.90px;font-size:7px;color:#333;font-weight:normal;">Goal</div>
<div class="t" style="left:580.60px;top:78.90px;font-size:7px;color:#333;font-weight:normal;">Actual</div>
<div class="t" style="left:616.80px;top:78.90px;font-size:7px;color:#333;font-weight:normal;">Progress</div>
<div style="position:absolute;left:690.40px;top:94.60px;width:0.80px;height:111.80px;background:rgba(200,200,200,.985);"></div>
<div style="position:absolute;left:691.20px;top:94.25px;width:52.50px;height:0.70px;background:rgba(220,220,220,.985);"></div>
<div class="t" style="left:565.20px;top:90.99px;font-size:7px;color:#3c3c3c;font-weight:normal;">30</div>
<div class="t" style="left:580.60px;top:90.99px;font-size:7px;color:#3c3c3c;font-weight:normal;">10</div>
<div style="position:absolute;left:692.40px;top:96.29px;width:16.47px;height:7.70px;background:rgba(166,232,144,.985);"></div>
<div style="position:absolute;left:691.20px;top:105.43px;width:52.50px;height:0.70px;background:rgba(220,220,220,.985);"></div>
<div class="t" style="left:565.20px;top:102.17px;font-size:7px;color:#3c3c3c;font-weight:normal;">30</div>
<div class="t" style="left:580.60px;top:102.17px;font-size:7px;color:#3c3c3c;font-weight:normal;">12</div>
<div style="position:absolute;left:692.40px;top:107.47px;width:19.76px;height:7.70px;background:rgba(166,232,144,.985);"></div>
<div style="position:absolute;left:691.20px;top:116.61px;width:52.50px;height:0.70px;background:rgba(220,220,220,.985);"></div>
<div class="t" style="left:565.20px;top:113.35px;font-size:7px;color:#3c3c3c;font-weight:normal;">30</div>
<div class="t" style="left:580.60px;top:113.35px;font-size:7px;color:#3c3c3c;font-weight:normal;">20</div>
<div style="position:absolute;left:692.40px;top:118.65px;width:32.93px;height:7.70px;background:rgba(166,232,144,.985);"></div>
<div style="position:absolute;left:691.20px;top:127.79px;width:52.50px;height:0.70px;background:rgba(220,220,220,.985);"></div>
<div class="t" style="left:565.20px;top:124.53px;font-size:7px;color:#3c3c3c;font-weight:normal;">30</div>
<div class="t" style="left:580.60px;top:124.53px;font-size:7px;color:#3c3c3c;font-weight:normal;">22</div>
<div style="position:absolute;left:692.40px;top:129.83px;width:36.23px;height:7.70px;background:rgba(166,232,144,.985);"></div>
<div style="position:absolute;left:691.20px;top:138.97px;width:52.50px;height:0.70px;background:rgba(220,220,220,.985);"></div>
<div class="t" style="left:565.20px;top:135.71px;font-size:7px;color:#3c3c3c;font-weight:normal;">30</div>
<div class="t" style="left:580.60px;top:135.71px;font-size:7px;color:#3c3c3c;font-weight:normal;">20</div>
<div style="position:absolute;left:692.40px;top:141.01px;width:32.93px;height:7.70px;background:rgba(166,232,144,.985);"></div>
<div style="position:absolute;left:691.20px;top:150.15px;width:52.50px;height:0.70px;background:rgba(220,220,220,.985);"></div>
<div class="t" style="left:565.20px;top:146.89px;font-size:7px;color:#3c3c3c;font-weight:normal;">30</div>
<div class="t" style="left:580.60px;top:146.89px;font-size:7px;color:#3c3c3c;font-weight:normal;">24</div>
<div style="position:absolute;left:692.40px;top:152.19px;width:39.52px;height:7.70px;background:rgba(166,232,144,.985);"></div>
<div style="position:absolute;left:691.20px;top:161.33px;width:52.50px;height:0.70px;background:rgba(220,220,220,.985);"></div>
<div class="t" style="left:565.20px;top:158.07px;font-size:7px;color:#3c3c3c;font-weight:normal;">30</div>
<div class="t" style="left:580.60px;top:158.07px;font-size:7px;color:#3c3c3c;font-weight:normal;">15</div>
<div style="position:absolute;left:692.40px;top:163.37px;width:24.70px;height:7.70px;background:rgba(166,232,144,.985);"></div>
<div style="position:absolute;left:691.20px;top:172.51px;width:52.50px;height:0.70px;background:rgba(220,220,220,.985);"></div>
<div class="t" style="left:565.20px;top:169.25px;font-size:7px;color:#3c3c3c;font-weight:normal;">30</div>
<div class="t" style="left:580.60px;top:169.25px;font-size:7px;color:#3c3c3c;font-weight:normal;">7</div>
<div style="position:absolute;left:692.40px;top:174.55px;width:11.53px;height:7.70px;background:rgba(166,232,144,.985);"></div>
<div style="position:absolute;left:691.20px;top:183.69px;width:52.50px;height:0.70px;background:rgba(220,220,220,.985);"></div>
<div class="t" style="left:565.20px;top:180.43px;font-size:7px;color:#3c3c3c;font-weight:normal;">30</div>
<div class="t" style="left:580.60px;top:180.43px;font-size:7px;color:#3c3c3c;font-weight:normal;">3</div>
<div style="position:absolute;left:692.40px;top:185.73px;width:4.94px;height:7.70px;background:rgba(166,232,144,.985);"></div>
<div style="position:absolute;left:691.20px;top:194.87px;width:52.50px;height:0.70px;background:rgba(220,220,220,.985);"></div>
<div class="t" style="left:565.20px;top:191.61px;font-size:7px;color:#3c3c3c;font-weight:normal;">30</div>
<div class="t" style="left:580.60px;top:191.61px;font-size:7px;color:#3c3c3c;font-weight:normal;">1</div>
<div style="position:absolute;left:692.40px;top:196.91px;width:1.65px;height:7.70px;background:rgba(166,232,144,.985);"></div>
<div style="position:absolute;left:5.30px;top:217.60px;width:99.50px;height:34.20px;background:rgba(217,217,217,.985);"></div>
<div style="position:absolute;left:104.80px;top:217.60px;width:529.60px;height:34.20px;background:rgba(243,243,243,.985);"></div>
<div style="position:absolute;left:5.30px;top:228.65px;width:99.50px;height:0.70px;background:rgba(255,255,255,.25);"></div>
<div style="position:absolute;left:5.30px;top:240.05px;width:99.50px;height:0.70px;background:rgba(255,255,255,.25);"></div>
<div class="t" style="left:-44.95px;top:214.00px;font-size:7px;color:#222;font-weight:normal;">Progress</div>
<div class="t" style="left:-44.95px;top:225.40px;font-size:7px;color:#222;font-weight:normal;">Done</div>
<div class="t" style="left:-44.95px;top:236.80px;font-size:7px;color:#222;font-weight:normal;">Not Done</div>
<div class="t" style="left:13.62px;top:214.00px;font-size:7px;color:#444;font-weight:normal;">80%</div>
<div class="t" style="left:13.62px;top:225.40px;font-size:7px;color:#444;font-weight:normal;">8</div>
<div class="t" style="left:13.62px;top:236.80px;font-size:7px;color:#444;font-weight:normal;">2</div>
<div class="t" style="left:31.26px;top:214.00px;font-size:7px;color:#444;font-weight:normal;">60%</div>
<div class="t" style="left:31.26px;top:225.40px;font-size:7px;color:#444;font-weight:normal;">6</div>
<div class="t" style="left:31.26px;top:236.80px;font-size:7px;color:#444;font-weight:normal;">4</div>
<div class="t" style="left:48.90px;top:214.00px;font-size:7px;color:#444;font-weight:normal;">70%</div>
<div class="t" style="left:48.90px;top:225.40px;font-size:7px;color:#444;font-weight:normal;">7</div>
<div class="t" style="left:48.90px;top:236.80px;font-size:7px;color:#444;font-weight:normal;">3</div>
<div class="t" style="left:66.54px;top:214.00px;font-size:7px;color:#444;font-weight:normal;">40%</div>
<div class="t" style="left:66.54px;top:225.40px;font-size:7px;color:#444;font-weight:normal;">4</div>
<div class="t" style="left:66.54px;top:236.80px;font-size:7px;color:#444;font-weight:normal;">6</div>
<div class="t" style="left:84.18px;top:214.00px;font-size:7px;color:#444;font-weight:normal;">40%</div>
<div class="t" style="left:84.18px;top:225.40px;font-size:7px;color:#444;font-weight:normal;">4</div>
<div class="t" style="left:84.18px;top:236.80px;font-size:7px;color:#444;font-weight:normal;">6</div>
<div class="t" style="left:101.82px;top:214.00px;font-size:7px;color:#444;font-weight:normal;">40%</div>
<div class="t" style="left:101.82px;top:225.40px;font-size:7px;color:#444;font-weight:normal;">4</div>
<div class="t" style="left:101.82px;top:236.80px;font-size:7px;color:#444;font-weight:normal;">6</div>
<div class="t" style="left:119.46px;top:214.00px;font-size:7px;color:#444;font-weight:normal;">30%</div>
<div class="t" style="left:119.46px;top:225.40px;font-size:7px;color:#444;font-weight:normal;">3</div>
<div class="t" style="left:119.46px;top:236.80px;font-size:7px;color:#444;font-weight:normal;">7</div>
<div class="t" style="left:137.10px;top:214.00px;font-size:7px;color:#444;font-weight:normal;">30%</div>
<div class="t" style="left:137.10px;top:225.40px;font-size:7px;color:#444;font-weight:normal;">3</div>
<div class="t" style="left:137.10px;top:236.80px;font-size:7px;color:#444;font-weight:normal;">7</div>
<div class="t" style="left:154.74px;top:214.00px;font-size:7px;color:#444;font-weight:normal;">40%</div>
<div class="t" style="left:154.74px;top:225.40px;font-size:7px;color:#444;font-weight:normal;">4</div>
<div class="t" style="left:154.74px;top:236.80px;font-size:7px;color:#444;font-weight:normal;">6</div>
<div class="t" style="left:172.38px;top:214.00px;font-size:7px;color:#444;font-weight:normal;">30%</div>
<div class="t" style="left:172.38px;top:225.40px;font-size:7px;color:#444;font-weight:normal;">3</div>
<div class="t" style="left:172.38px;top:236.80px;font-size:7px;color:#444;font-weight:normal;">7</div>
<div class="t" style="left:190.02px;top:214.00px;font-size:7px;color:#444;font-weight:normal;">10%</div>
<div class="t" style="left:190.02px;top:225.40px;font-size:7px;color:#444;font-weight:normal;">1</div>
<div class="t" style="left:190.02px;top:236.80px;font-size:7px;color:#444;font-weight:normal;">9</div>
<div class="t" style="left:207.66px;top:214.00px;font-size:7px;color:#444;font-weight:normal;">30%</div>
<div class="t" style="left:207.66px;top:225.40px;font-size:7px;color:#444;font-weight:normal;">3</div>
<div class="t" style="left:207.66px;top:236.80px;font-size:7px;color:#444;font-weight:normal;">7</div>
<div class="t" style="left:225.30px;top:214.00px;font-size:7px;color:#444;font-weight:normal;">60%</div>
<div class="t" style="left:225.30px;top:225.40px;font-size:7px;color:#444;font-weight:normal;">6</div>
<div class="t" style="left:225.30px;top:236.80px;font-size:7px;color:#444;font-weight:normal;">4</div>
<div class="t" style="left:242.94px;top:214.00px;font-size:7px;color:#444;font-weight:normal;">50%</div>
<div class="t" style="left:242.94px;top:225.40px;font-size:7px;color:#444;font-weight:normal;">5</div>
<div class="t" style="left:242.94px;top:236.80px;font-size:7px;color:#444;font-weight:normal;">5</div>
<div class="t" style="left:260.58px;top:214.00px;font-size:7px;color:#444;font-weight:normal;">40%</div>
<div class="t" style="left:260.58px;top:225.40px;font-size:7px;color:#444;font-weight:normal;">4</div>
<div class="t" style="left:260.58px;top:236.80px;font-size:7px;color:#444;font-weight:normal;">6</div>
<div class="t" style="left:278.22px;top:214.00px;font-size:7px;color:#444;font-weight:normal;">50%</div>
<div class="t" style="left:278.22px;top:225.40px;font-size:7px;color:#444;font-weight:normal;">5</div>
<div class="t" style="left:278.22px;top:236.80px;font-size:7px;color:#444;font-weight:normal;">5</div>
<div class="t" style="left:295.86px;top:214.00px;font-size:7px;color:#444;font-weight:normal;">60%</div>
<div class="t" style="left:295.86px;top:225.40px;font-size:7px;color:#444;font-weight:normal;">6</div>
<div class="t" style="left:295.86px;top:236.80px;font-size:7px;color:#444;font-weight:normal;">4</div>
<div class="t" style="left:313.50px;top:214.00px;font-size:7px;color:#444;font-weight:normal;">60%</div>
<div class="t" style="left:313.50px;top:225.40px;font-size:7px;color:#444;font-weight:normal;">6</div>
<div class="t" style="left:313.50px;top:236.80px;font-size:7px;color:#444;font-weight:normal;">4</div>
<div class="t" style="left:331.14px;top:214.00px;font-size:7px;color:#444;font-weight:normal;">50%</div>
<div class="t" style="left:331.14px;top:225.40px;font-size:7px;color:#444;font-weight:normal;">5</div>
<div class="t" style="left:331.14px;top:236.80px;font-size:7px;color:#444;font-weight:normal;">5</div>
<div class="t" style="left:348.78px;top:214.00px;font-size:7px;color:#444;font-weight:normal;">30%</div>
<div class="t" style="left:348.78px;top:225.40px;font-size:7px;color:#444;font-weight:normal;">3</div>
<div class="t" style="left:348.78px;top:236.80px;font-size:7px;color:#444;font-weight:normal;">7</div>
<div class="t" style="left:366.42px;top:214.00px;font-size:7px;color:#444;font-weight:normal;">30%</div>
<div class="t" style="left:366.42px;top:225.40px;font-size:7px;color:#444;font-weight:normal;">3</div>
<div class="t" style="left:366.42px;top:236.80px;font-size:7px;color:#444;font-weight:normal;">7</div>
<div class="t" style="left:384.06px;top:214.00px;font-size:7px;color:#444;font-weight:normal;">50%</div>
<div class="t" style="left:384.06px;top:225.40px;font-size:7px;color:#444;font-weight:normal;">5</div>
<div class="t" style="left:384.06px;top:236.80px;font-size:7px;color:#444;font-weight:normal;">5</div>
<div class="t" style="left:401.70px;top:214.00px;font-size:7px;color:#444;font-weight:normal;">60%</div>
<div class="t" style="left:401.70px;top:225.40px;font-size:7px;color:#444;font-weight:normal;">6</div>
<div class="t" style="left:401.70px;top:236.80px;font-size:7px;color:#444;font-weight:normal;">4</div>
<div class="t" style="left:419.34px;top:214.00px;font-size:7px;color:#444;font-weight:normal;">30%</div>
<div class="t" style="left:419.34px;top:225.40px;font-size:7px;color:#444;font-weight:normal;">3</div>
<div class="t" style="left:419.34px;top:236.80px;font-size:7px;color:#444;font-weight:normal;">7</div>
<div class="t" style="left:436.98px;top:214.00px;font-size:7px;color:#444;font-weight:normal;">30%</div>
<div class="t" style="left:436.98px;top:225.40px;font-size:7px;color:#444;font-weight:normal;">3</div>
<div class="t" style="left:436.98px;top:236.80px;font-size:7px;color:#444;font-weight:normal;">7</div>
<div class="t" style="left:454.62px;top:214.00px;font-size:7px;color:#444;font-weight:normal;">50%</div>
<div class="t" style="left:454.62px;top:225.40px;font-size:7px;color:#444;font-weight:normal;">5</div>
<div class="t" style="left:454.62px;top:236.80px;font-size:7px;color:#444;font-weight:normal;">5</div>
<div class="t" style="left:472.26px;top:214.00px;font-size:7px;color:#444;font-weight:normal;">50%</div>
<div class="t" style="left:472.26px;top:225.40px;font-size:7px;color:#444;font-weight:normal;">5</div>
<div class="t" style="left:472.26px;top:236.80px;font-size:7px;color:#444;font-weight:normal;">5</div>
<div class="t" style="left:489.90px;top:214.00px;font-size:7px;color:#444;font-weight:normal;">40%</div>
<div class="t" style="left:489.90px;top:225.40px;font-size:7px;color:#444;font-weight:normal;">4</div>
<div class="t" style="left:489.90px;top:236.80px;font-size:7px;color:#444;font-weight:normal;">6</div>
<div class="t" style="left:507.54px;top:214.00px;font-size:7px;color:#444;font-weight:normal;">40%</div>
<div class="t" style="left:507.54px;top:225.40px;font-size:7px;color:#444;font-weight:normal;">4</div>
<div class="t" style="left:507.54px;top:236.80px;font-size:7px;color:#444;font-weight:normal;">6</div>
<div class="t" style="left:525.18px;top:214.00px;font-size:7px;color:#444;font-weight:normal;">60%</div>
<div class="t" style="left:525.18px;top:225.40px;font-size:7px;color:#444;font-weight:normal;">6</div>
<div class="t" style="left:525.18px;top:236.80px;font-size:7px;color:#444;font-weight:normal;">4</div>
<svg id="c1" style="position:absolute;left:0;top:0" width="748" height="477" viewBox="0 0 748 477"><defs><clipPath id="c1k"><rect x="107.10" y="262.00" width="532.90" height="80.80"/></clipPath></defs><rect x="107.10" y="262.00" width="532.90" height="80.80" fill="#fff"/><g clip-path="url(#c1k)"><path d="M107.10 262.50C110.16 265.87 119.35 281.02 125.48 282.70C131.60 284.38 137.73 269.23 143.85 272.60C149.98 275.97 156.10 297.85 162.23 302.90C168.35 307.95 174.48 302.90 180.60 302.90C186.73 302.90 192.85 301.22 198.98 302.90C205.10 304.58 211.23 311.32 217.36 313.00C223.48 314.68 229.61 314.68 235.73 313.00C241.86 311.32 247.98 302.90 254.11 302.90C260.23 302.90 266.36 307.95 272.48 313.00C278.61 318.05 284.73 333.20 290.86 333.20C296.98 333.20 303.11 321.42 309.23 313.00C315.36 304.58 321.49 286.07 327.61 282.70C333.74 279.33 339.86 289.43 345.99 292.80C352.11 296.17 358.24 302.90 364.36 302.90C370.49 302.90 376.61 296.17 382.74 292.80C388.86 289.43 394.99 284.38 401.11 282.70C407.24 281.02 413.36 281.02 419.49 282.70C425.61 284.38 431.74 287.75 437.87 292.80C443.99 297.85 450.12 309.63 456.24 313.00C462.37 316.37 468.49 316.37 474.62 313.00C480.74 309.63 486.87 297.85 492.99 292.80C499.12 287.75 505.24 279.33 511.37 282.70C517.49 286.07 523.62 307.95 529.74 313.00C535.87 318.05 542.00 316.37 548.12 313.00C554.25 309.63 560.37 296.17 566.50 292.80C572.62 289.43 578.75 291.12 584.87 292.80C591.00 294.48 597.12 301.22 603.25 302.90C609.37 304.58 615.50 306.27 621.62 302.90C627.75 299.53 636.94 286.07 640.00 282.70L640.00 344.80L107.10 344.80Z" fill="#e0ebd9"/><path d="M107.10 262.50C110.16 265.87 119.35 281.02 125.48 282.70C131.60 284.38 137.73 269.23 143.85 272.60C149.98 275.97 156.10 297.85 162.23 302.90C168.35 307.95 174.48 302.90 180.60 302.90C186.73 302.90 192.85 301.22 198.98 302.90C205.10 304.58 211.23 311.32 217.36 313.00C223.48 314.68 229.61 314.68 235.73 313.00C241.86 311.32 247.98 302.90 254.11 302.90C260.23 302.90 266.36 307.95 272.48 313.00C278.61 318.05 284.73 333.20 290.86 333.20C296.98 333.20 303.11 321.42 309.23 313.00C315.36 304.58 321.49 286.07 327.61 282.70C333.74 279.33 339.86 289.43 345.99 292.80C352.11 296.17 358.24 302.90 364.36 302.90C370.49 302.90 376.61 296.17 382.74 292.80C388.86 289.43 394.99 284.38 401.11 282.70C407.24 281.02 413.36 281.02 419.49 282.70C425.61 284.38 431.74 287.75 437.87 292.80C443.99 297.85 450.12 309.63 456.24 313.00C462.37 316.37 468.49 316.37 474.62 313.00C480.74 309.63 486.87 297.85 492.99 292.80C499.12 287.75 505.24 279.33 511.37 282.70C517.49 286.07 523.62 307.95 529.74 313.00C535.87 318.05 542.00 316.37 548.12 313.00C554.25 309.63 560.37 296.17 566.50 292.80C572.62 289.43 578.75 291.12 584.87 292.80C591.00 294.48 597.12 301.22 603.25 302.90C609.37 304.58 615.50 306.27 621.62 302.90C627.75 299.53 636.94 286.07 640.00 282.70" fill="none" stroke="#7fb068" stroke-width="1.0"/></g><rect x="107.60" y="262.50" width="531.90" height="79.80" fill="none" stroke="#9a9a9a" stroke-width="1"/></svg>
<div class="t" style="left:17.30px;top:277.70px;font-size:6.6px;color:#222;font-weight:bold">60%</div>
<div class="t" style="left:17.30px;top:297.50px;font-size:6.6px;color:#222;font-weight:bold">40%</div>
<div class="t" style="left:17.30px;top:317.00px;font-size:6.6px;color:#222;font-weight:bold">20%</div>
<svg id="c2" style="position:absolute;left:0;top:0" width="748" height="477" viewBox="0 0 748 477"><defs><clipPath id="c2k"><rect x="104.00" y="397.20" width="536.00" height="74.50"/></clipPath></defs><rect x="104.00" y="397.20" width="536.00" height="74.50" fill="#fff"/><g clip-path="url(#c2k)"><path d="M104.00 413.20C107.08 415.65 116.32 426.67 122.48 427.90C128.64 429.12 134.80 423.61 140.97 420.55C147.13 417.49 153.29 406.46 159.45 409.52C165.61 412.59 171.77 432.80 177.93 438.93C184.09 445.05 190.25 449.34 196.41 446.27C202.57 443.21 208.74 424.23 214.90 420.55C221.06 416.88 227.22 424.84 233.38 424.23C239.54 423.61 245.70 416.88 251.86 416.88C258.02 416.88 264.18 420.55 270.34 424.23C276.51 427.90 282.67 439.54 288.83 438.93C294.99 438.31 301.15 421.78 307.31 420.55C313.47 419.32 319.63 430.35 325.79 431.57C331.95 432.80 338.11 425.45 344.28 427.90C350.44 430.35 356.60 446.89 362.76 446.27C368.92 445.66 375.08 424.84 381.24 424.23C387.40 423.61 393.56 434.64 399.72 442.60C405.89 450.56 412.05 467.10 418.21 472.00C424.37 476.90 430.53 472.00 436.69 472.00C442.85 472.00 449.01 472.00 455.17 472.00C461.33 472.00 467.49 472.00 473.66 472.00C479.82 472.00 485.98 472.00 492.14 472.00C498.30 472.00 504.46 472.00 510.62 472.00C516.78 472.00 522.94 472.00 529.10 472.00C535.26 472.00 541.43 472.00 547.59 472.00C553.75 472.00 559.91 472.00 566.07 472.00C572.23 472.00 578.39 472.00 584.55 472.00C590.71 472.00 596.87 472.00 603.03 472.00C609.20 472.00 615.36 472.00 621.52 472.00C627.68 472.00 636.92 472.00 640.00 472.00L640.00 473.70L104.00 473.70Z" fill="#efe2e7"/><path d="M104.00 413.20C107.08 415.65 116.32 426.67 122.48 427.90C128.64 429.12 134.80 423.61 140.97 420.55C147.13 417.49 153.29 406.46 159.45 409.52C165.61 412.59 171.77 432.80 177.93 438.93C184.09 445.05 190.25 449.34 196.41 446.27C202.57 443.21 208.74 424.23 214.90 420.55C221.06 416.88 227.22 424.84 233.38 424.23C239.54 423.61 245.70 416.88 251.86 416.88C258.02 416.88 264.18 420.55 270.34 424.23C276.51 427.90 282.67 439.54 288.83 438.93C294.99 438.31 301.15 421.78 307.31 420.55C313.47 419.32 319.63 430.35 325.79 431.57C331.95 432.80 338.11 425.45 344.28 427.90C350.44 430.35 356.60 446.89 362.76 446.27C368.92 445.66 375.08 424.84 381.24 424.23C387.40 423.61 393.56 434.64 399.72 442.60C405.89 450.56 412.05 467.10 418.21 472.00C424.37 476.90 430.53 472.00 436.69 472.00C442.85 472.00 449.01 472.00 455.17 472.00C461.33 472.00 467.49 472.00 473.66 472.00C479.82 472.00 485.98 472.00 492.14 472.00C498.30 472.00 504.46 472.00 510.62 472.00C516.78 472.00 522.94 472.00 529.10 472.00C535.26 472.00 541.43 472.00 547.59 472.00C553.75 472.00 559.91 472.00 566.07 472.00C572.23 472.00 578.39 472.00 584.55 472.00C590.71 472.00 596.87 472.00 603.03 472.00C609.20 472.00 615.36 472.00 621.52 472.00C627.68 472.00 636.92 472.00 640.00 472.00" fill="none" stroke="#c791a2" stroke-width="1.05"/></g><rect x="104.50" y="397.70" width="535.00" height="73.50" fill="none" stroke="#9a9a9a" stroke-width="1"/></svg>
<div class="t" style="left:14.40px;top:412.30px;font-size:6.6px;color:#222;font-weight:bold">75%</div>
<div class="t" style="left:14.40px;top:430.30px;font-size:6.6px;color:#222;font-weight:bold">50%</div>
<div class="t" style="left:14.40px;top:448.30px;font-size:6.6px;color:#222;font-weight:bold">25%</div>
<div style="position:absolute;left:5.30px;top:352.00px;width:629.10px;height:11.50px;background:rgba(217,217,217,.985);"></div>
<div style="position:absolute;left:5.30px;top:363.50px;width:99.50px;height:23.30px;background:rgba(217,217,217,.985);"></div>
<div style="position:absolute;left:104.80px;top:363.50px;width:529.60px;height:23.30px;background:rgba(243,243,243,.985);"></div>
<div style="position:absolute;left:5.30px;top:363.15px;width:99.50px;height:0.70px;background:rgba(255,255,255,.25);"></div>
<div style="position:absolute;left:5.30px;top:374.85px;width:99.50px;height:0.70px;background:rgba(255,255,255,.25);"></div>
<div class="t" style="left:269.40px;top:348.70px;font-size:7px;color:#222;font-weight:normal;">Mental State</div>
<div class="t" style="left:-44.95px;top:359.80px;font-size:7px;color:#222;font-weight:normal;">Mood</div>
<div class="t" style="left:-44.95px;top:371.60px;font-size:7px;color:#222;font-weight:normal;">Motivation</div>
<div class="t" style="left:8.00px;top:359.80px;font-size:7px;color:#222;font-weight:normal;">9</div>
<svg style="position:absolute;left:114.80px;top:367.90px" width="4" height="2.6" viewBox="0 0 4 2.6"><path d="M0 0H4L2 2.6Z" fill="#7a7a7a"/></svg>
<div class="t" style="left:8.00px;top:371.10px;font-size:7px;color:#222;font-weight:normal;">7</div>
<svg style="position:absolute;left:114.80px;top:379.20px" width="4" height="2.6" viewBox="0 0 4 2.6"><path d="M0 0H4L2 2.6Z" fill="#7a7a7a"/></svg>
<div class="t" style="left:25.64px;top:359.80px;font-size:7px;color:#222;font-weight:normal;">4</div>
<svg style="position:absolute;left:132.44px;top:367.90px" width="4" height="2.6" viewBox="0 0 4 2.6"><path d="M0 0H4L2 2.6Z" fill="#7a7a7a"/></svg>
<div class="t" style="left:25.64px;top:371.10px;font-size:7px;color:#222;font-weight:normal;">8</div>
<svg style="position:absolute;left:132.44px;top:379.20px" width="4" height="2.6" viewBox="0 0 4 2.6"><path d="M0 0H4L2 2.6Z" fill="#7a7a7a"/></svg>
<div class="t" style="left:43.28px;top:359.80px;font-size:7px;color:#222;font-weight:normal;">6</div>
<svg style="position:absolute;left:150.08px;top:367.90px" width="4" height="2.6" viewBox="0 0 4 2.6"><path d="M0 0H4L2 2.6Z" fill="#7a7a7a"/></svg>
<div class="t" style="left:43.28px;top:371.10px;font-size:7px;color:#222;font-weight:normal;">8</div>
<svg style="position:absolute;left:150.08px;top:379.20px" width="4" height="2.6" viewBox="0 0 4 2.6"><path d="M0 0H4L2 2.6Z" fill="#7a7a7a"/></svg>
<div class="t" style="left:60.92px;top:359.80px;font-size:7px;color:#222;font-weight:normal;">9</div>
<svg style="position:absolute;left:167.72px;top:367.90px" width="4" height="2.6" viewBox="0 0 4 2.6"><path d="M0 0H4L2 2.6Z" fill="#7a7a7a"/></svg>
<div class="t" style="left:60.92px;top:371.10px;font-size:7px;color:#222;font-weight:normal;">8</div>
<svg style="position:absolute;left:167.72px;top:379.20px" width="4" height="2.6" viewBox="0 0 4 2.6"><path d="M0 0H4L2 2.6Z" fill="#7a7a7a"/></svg>
<div class="t" style="left:78.56px;top:359.80px;font-size:7px;color:#222;font-weight:normal;">9</div>
<svg style="position:absolute;left:185.36px;top:367.90px" width="4" height="2.6" viewBox="0 0 4 2.6"><path d="M0 0H4L2 2.6Z" fill="#7a7a7a"/></svg>
<svg style="position:absolute;left:185.36px;top:379.20px" width="4" height="2.6" viewBox="0 0 4 2.6"><path d="M0 0H4L2 2.6Z" fill="#7a7a7a"/></svg>
<div class="t" style="left:96.20px;top:359.80px;font-size:7px;color:#222;font-weight:normal;">7</div>
<svg style="position:absolute;left:203.00px;top:367.90px" width="4" height="2.6" viewBox="0 0 4 2.6"><path d="M0 0H4L2 2.6Z" fill="#7a7a7a"/></svg>
<svg style="position:absolute;left:203.00px;top:379.20px" width="4" height="2.6" viewBox="0 0 4 2.6"><path d="M0 0H4L2 2.6Z" fill="#7a7a7a"/></svg>
<div class="t" style="left:113.84px;top:359.80px;font-size:7px;color:#222;font-weight:normal;">9</div>
<svg style="position:absolute;left:220.64px;top:367.90px" width="4" height="2.6" viewBox="0 0 4 2.6"><path d="M0 0H4L2 2.6Z" fill="#7a7a7a"/></svg>
<div class="t" style="left:113.84px;top:371.10px;font-size:7px;color:#222;font-weight:normal;">5</div>
<svg style="position:absolute;left:220.64px;top:379.20px" width="4" height="2.6" viewBox="0 0 4 2.6"><path d="M0 0H4L2 2.6Z" fill="#7a7a7a"/></svg>
<div class="t" style="left:131.48px;top:359.80px;font-size:7px;color:#222;font-weight:normal;">8</div>
<svg style="position:absolute;left:238.28px;top:367.90px" width="4" height="2.6" viewBox="0 0 4 2.6"><path d="M0 0H4L2 2.6Z" fill="#7a7a7a"/></svg>
<div class="t" style="left:131.48px;top:371.10px;font-size:7px;color:#222;font-weight:normal;">5</div>
<svg style="position:absolute;left:238.28px;top:379.20px" width="4" height="2.6" viewBox="0 0 4 2.6"><path d="M0 0H4L2 2.6Z" fill="#7a7a7a"/></svg>
<div class="t" style="left:149.12px;top:359.80px;font-size:7px;color:#222;font-weight:normal;">6</div>
<svg style="position:absolute;left:255.92px;top:367.90px" width="4" height="2.6" viewBox="0 0 4 2.6"><path d="M0 0H4L2 2.6Z" fill="#7a7a7a"/></svg>
<div class="t" style="left:149.12px;top:371.10px;font-size:7px;color:#222;font-weight:normal;">9</div>
<svg style="position:absolute;left:255.92px;top:379.20px" width="4" height="2.6" viewBox="0 0 4 2.6"><path d="M0 0H4L2 2.6Z" fill="#7a7a7a"/></svg>
<div class="t" style="left:166.76px;top:359.80px;font-size:7px;color:#222;font-weight:normal;">6</div>
<svg style="position:absolute;left:273.56px;top:367.90px" width="4" height="2.6" viewBox="0 0 4 2.6"><path d="M0 0H4L2 2.6Z" fill="#7a7a7a"/></svg>
<div class="t" style="left:166.76px;top:371.10px;font-size:7px;color:#222;font-weight:normal;">7</div>
<svg style="position:absolute;left:273.56px;top:379.20px" width="4" height="2.6" viewBox="0 0 4 2.6"><path d="M0 0H4L2 2.6Z" fill="#7a7a7a"/></svg>
<div class="t" style="left:184.40px;top:359.80px;font-size:7px;color:#222;font-weight:normal;">4</div>
<svg style="position:absolute;left:291.20px;top:367.90px" width="4" height="2.6" viewBox="0 0 4 2.6"><path d="M0 0H4L2 2.6Z" fill="#7a7a7a"/></svg>
<div class="t" style="left:184.40px;top:371.10px;font-size:7px;color:#222;font-weight:normal;">5</div>
<svg style="position:absolute;left:291.20px;top:379.20px" width="4" height="2.6" viewBox="0 0 4 2.6"><path d="M0 0H4L2 2.6Z" fill="#7a7a7a"/></svg>
<div class="t" style="left:202.04px;top:359.80px;font-size:7px;color:#222;font-weight:normal;">7</div>
<svg style="position:absolute;left:308.84px;top:367.90px" width="4" height="2.6" viewBox="0 0 4 2.6"><path d="M0 0H4L2 2.6Z" fill="#7a7a7a"/></svg>
<div class="t" style="left:202.04px;top:371.10px;font-size:7px;color:#222;font-weight:normal;">7</div>
<svg style="position:absolute;left:308.84px;top:379.20px" width="4" height="2.6" viewBox="0 0 4 2.6"><path d="M0 0H4L2 2.6Z" fill="#7a7a7a"/></svg>
<div class="t" style="left:219.68px;top:359.80px;font-size:7px;color:#222;font-weight:normal;">3</div>
<svg style="position:absolute;left:326.48px;top:367.90px" width="4" height="2.6" viewBox="0 0 4 2.6"><path d="M0 0H4L2 2.6Z" fill="#7a7a7a"/></svg>
<div class="t" style="left:219.68px;top:371.10px;font-size:7px;color:#222;font-weight:normal;">8</div>
<svg style="position:absolute;left:326.48px;top:379.20px" width="4" height="2.6" viewBox="0 0 4 2.6"><path d="M0 0H4L2 2.6Z" fill="#7a7a7a"/></svg>
<div class="t" style="left:237.32px;top:359.80px;font-size:7px;color:#222;font-weight:normal;">7</div>
<svg style="position:absolute;left:344.12px;top:367.90px" width="4" height="2.6" viewBox="0 0 4 2.6"><path d="M0 0H4L2 2.6Z" fill="#7a7a7a"/></svg>
<div class="t" style="left:237.32px;top:371.10px;font-size:7px;color:#222;font-weight:normal;">5</div>
<svg style="position:absolute;left:344.12px;top:379.20px" width="4" height="2.6" viewBox="0 0 4 2.6"><path d="M0 0H4L2 2.6Z" fill="#7a7a7a"/></svg>
<div class="t" style="left:254.96px;top:359.80px;font-size:7px;color:#222;font-weight:normal;">2</div>
<svg style="position:absolute;left:361.76px;top:367.90px" width="4" height="2.6" viewBox="0 0 4 2.6"><path d="M0 0H4L2 2.6Z" fill="#7a7a7a"/></svg>
<div class="t" style="left:254.96px;top:371.10px;font-size:7px;color:#222;font-weight:normal;">5</div>
<svg style="position:absolute;left:361.76px;top:379.20px" width="4" height="2.6" viewBox="0 0 4 2.6"><path d="M0 0H4L2 2.6Z" fill="#7a7a7a"/></svg>
<div class="t" style="left:272.60px;top:359.80px;font-size:7px;color:#222;font-weight:normal;">5</div>
<svg style="position:absolute;left:379.40px;top:367.90px" width="4" height="2.6" viewBox="0 0 4 2.6"><path d="M0 0H4L2 2.6Z" fill="#7a7a7a"/></svg>
<div class="t" style="left:272.60px;top:371.10px;font-size:7px;color:#222;font-weight:normal;">8</div>
<svg style="position:absolute;left:379.40px;top:379.20px" width="4" height="2.6" viewBox="0 0 4 2.6"><path d="M0 0H4L2 2.6Z" fill="#7a7a7a"/></svg>
<svg style="position:absolute;left:397.04px;top:367.90px" width="4" height="2.6" viewBox="0 0 4 2.6"><path d="M0 0H4L2 2.6Z" fill="#7a7a7a"/></svg>
<div class="t" style="left:290.24px;top:371.10px;font-size:7px;color:#222;font-weight:normal;">8</div>
<svg style="position:absolute;left:397.04px;top:379.20px" width="4" height="2.6" viewBox="0 0 4 2.6"><path d="M0 0H4L2 2.6Z" fill="#7a7a7a"/></svg>
<svg style="position:absolute;left:414.68px;top:367.90px" width="4" height="2.6" viewBox="0 0 4 2.6"><path d="M0 0H4L2 2.6Z" fill="#7a7a7a"/></svg>
<svg style="position:absolute;left:414.68px;top:379.20px" width="4" height="2.6" viewBox="0 0 4 2.6"><path d="M0 0H4L2 2.6Z" fill="#7a7a7a"/></svg>
<svg style="position:absolute;left:432.32px;top:367.90px" width="4" height="2.6" viewBox="0 0 4 2.6"><path d="M0 0H4L2 2.6Z" fill="#7a7a7a"/></svg>
<svg style="position:absolute;left:432.32px;top:379.20px" width="4" height="2.6" viewBox="0 0 4 2.6"><path d="M0 0H4L2 2.6Z" fill="#7a7a7a"/></svg>
<svg style="position:absolute;left:449.96px;top:367.90px" width="4" height="2.6" viewBox="0 0 4 2.6"><path d="M0 0H4L2 2.6Z" fill="#7a7a7a"/></svg>
<svg style="position:absolute;left:449.96px;top:379.20px" width="4" height="2.6" viewBox="0 0 4 2.6"><path d="M0 0H4L2 2.6Z" fill="#7a7a7a"/></svg>
<svg style="position:absolute;left:467.60px;top:367.90px" width="4" height="2.6" viewBox="0 0 4 2.6"><path d="M0 0H4L2 2.6Z" fill="#7a7a7a"/></svg>
<svg style="position:absolute;left:467.60px;top:379.20px" width="4" height="2.6" viewBox="0 0 4 2.6"><path d="M0 0H4L2 2.6Z" fill="#7a7a7a"/></svg>
<svg style="position:absolute;left:485.24px;top:367.90px" width="4" height="2.6" viewBox="0 0 4 2.6"><path d="M0 0H4L2 2.6Z" fill="#7a7a7a"/></svg>
<svg style="position:absolute;left:485.24px;top:379.20px" width="4" height="2.6" viewBox="0 0 4 2.6"><path d="M0 0H4L2 2.6Z" fill="#7a7a7a"/></svg>
<svg style="position:absolute;left:502.88px;top:367.90px" width="4" height="2.6" viewBox="0 0 4 2.6"><path d="M0 0H4L2 2.6Z" fill="#7a7a7a"/></svg>
<svg style="position:absolute;left:502.88px;top:379.20px" width="4" height="2.6" viewBox="0 0 4 2.6"><path d="M0 0H4L2 2.6Z" fill="#7a7a7a"/></svg>
<svg style="position:absolute;left:520.52px;top:367.90px" width="4" height="2.6" viewBox="0 0 4 2.6"><path d="M0 0H4L2 2.6Z" fill="#7a7a7a"/></svg>
<svg style="position:absolute;left:520.52px;top:379.20px" width="4" height="2.6" viewBox="0 0 4 2.6"><path d="M0 0H4L2 2.6Z" fill="#7a7a7a"/></svg>
<svg style="position:absolute;left:538.16px;top:367.90px" width="4" height="2.6" viewBox="0 0 4 2.6"><path d="M0 0H4L2 2.6Z" fill="#7a7a7a"/></svg>
<svg style="position:absolute;left:538.16px;top:379.20px" width="4" height="2.6" viewBox="0 0 4 2.6"><path d="M0 0H4L2 2.6Z" fill="#7a7a7a"/></svg>
<svg style="position:absolute;left:555.80px;top:367.90px" width="4" height="2.6" viewBox="0 0 4 2.6"><path d="M0 0H4L2 2.6Z" fill="#7a7a7a"/></svg>
<svg style="position:absolute;left:555.80px;top:379.20px" width="4" height="2.6" viewBox="0 0 4 2.6"><path d="M0 0H4L2 2.6Z" fill="#7a7a7a"/></svg>
<svg style="position:absolute;left:573.44px;top:367.90px" width="4" height="2.6" viewBox="0 0 4 2.6"><path d="M0 0H4L2 2.6Z" fill="#7a7a7a"/></svg>
<svg style="position:absolute;left:573.44px;top:379.20px" width="4" height="2.6" viewBox="0 0 4 2.6"><path d="M0 0H4L2 2.6Z" fill="#7a7a7a"/></svg>
<svg style="position:absolute;left:591.08px;top:367.90px" width="4" height="2.6" viewBox="0 0 4 2.6"><path d="M0 0H4L2 2.6Z" fill="#7a7a7a"/></svg>
<svg style="position:absolute;left:591.08px;top:379.20px" width="4" height="2.6" viewBox="0 0 4 2.6"><path d="M0 0H4L2 2.6Z" fill="#7a7a7a"/></svg>
<svg style="position:absolute;left:608.72px;top:367.90px" width="4" height="2.6" viewBox="0 0 4 2.6"><path d="M0 0H4L2 2.6Z" fill="#7a7a7a"/></svg>
<svg style="position:absolute;left:608.72px;top:379.20px" width="4" height="2.6" viewBox="0 0 4 2.6"><path d="M0 0H4L2 2.6Z" fill="#7a7a7a"/></svg>
<svg style="position:absolute;left:626.36px;top:367.90px" width="4" height="2.6" viewBox="0 0 4 2.6"><path d="M0 0H4L2 2.6Z" fill="#7a7a7a"/></svg>
<svg style="position:absolute;left:626.36px;top:379.20px" width="4" height="2.6" viewBox="0 0 4 2.6"><path d="M0 0H4L2 2.6Z" fill="#7a7a7a"/></svg>
</div></body></html>
